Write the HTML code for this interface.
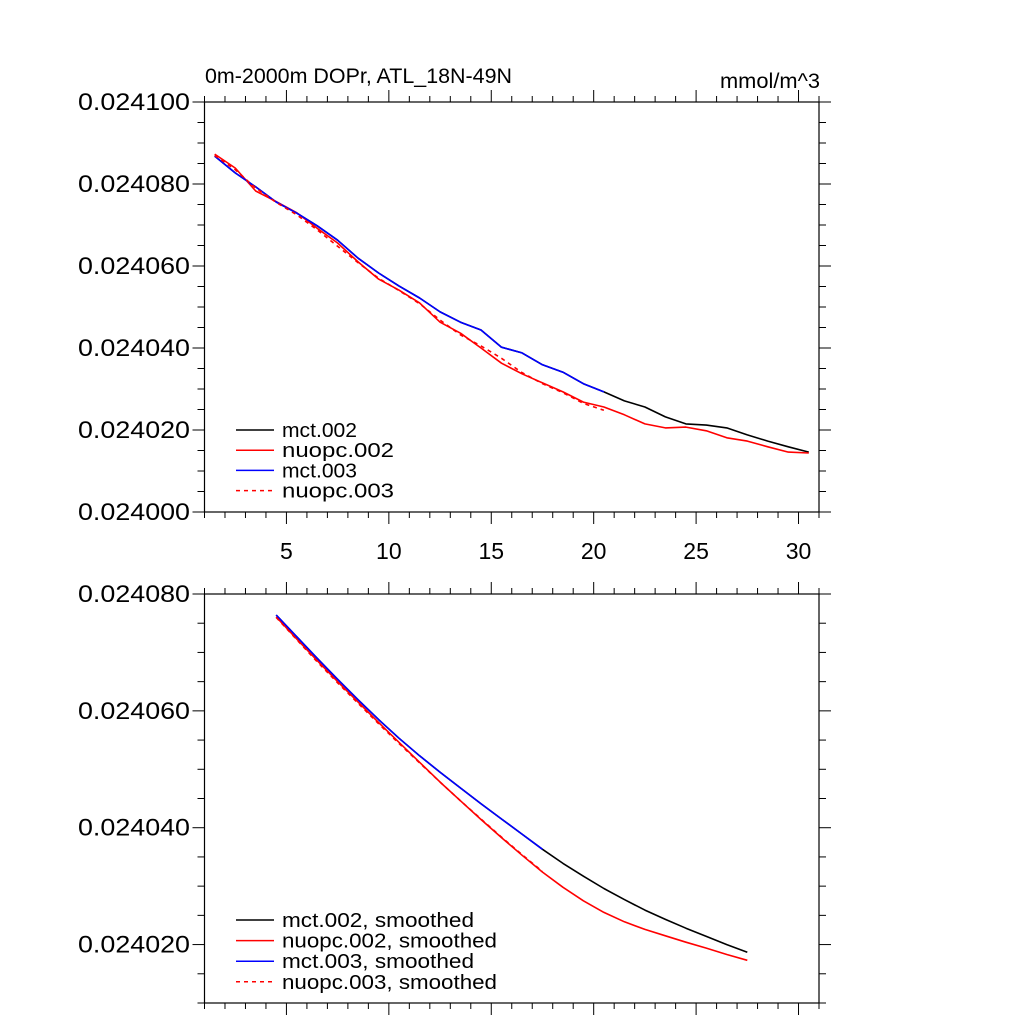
<!DOCTYPE html>
<html><head><meta charset="utf-8"><style>
body{margin:0;background:#fff;}
svg{display:block;font-family:"Liberation Sans",Arial,sans-serif;}
</style></head><body>
<svg id="chart" width="1024" height="1024" viewBox="0 0 1024 1024" xmlns="http://www.w3.org/2000/svg">
<text x="205" y="83" font-size="21" textLength="307" lengthAdjust="spacingAndGlyphs">0m-2000m DOPr, ATL_18N-49N</text>
<text x="820" y="88" font-size="21" text-anchor="end" textLength="100" lengthAdjust="spacingAndGlyphs">mmol/m^3</text>
</svg>
<script>
const topX = [1.5,2.5,3.5,4.5,5.5,6.5,7.5,8.5,9.5,10.5,11.5,12.5,13.5,14.5,15.5,16.5,17.5,18.5,19.5,20.5,21.5,22.5,23.5,24.5,25.5,26.5,27.5,28.5,29.5,30.5];
const mct002 = [86.8,82.7,79.3,75.6,72.9,69.8,66.3,61.9,58.3,55.1,52.2,48.8,46.3,44.4,40.2,38.8,35.9,34.1,31.3,29.3,27.1,25.6,23.2,21.5,21.2,20.5,18.8,17.3,15.9,14.6];
const nuopc002 = [87.3,83.9,78.3,75.7,73.0,69.2,65.6,61.0,56.8,54.1,51.0,46.3,43.6,40.0,36.3,33.7,31.5,29.3,26.8,25.6,23.7,21.5,20.5,20.7,19.8,18.1,17.3,15.9,14.6,14.4];
const mct003 = [86.8,82.7,79.3,75.6,72.9,69.8,66.3,61.9,58.3,55.1,52.2,48.8,46.3,44.4,40.2,38.8,35.9,34.1,31.3,29.3];
const nuopc003 = [87.0,83.5,79.0,75.5,72.5,68.8,64.8,60.8,57.0,54.0,50.8,46.8,43.2,40.5,37.5,34.0,31.3,29.1,26.5,24.8];
const botX = [4.5,5.5,6.5,7.5,8.5,9.5,10.5,11.5,12.5,13.5,14.5,15.5,16.5,17.5,18.5,19.5,20.5,21.5,22.5,23.5,24.5,25.5,26.5,27.5];
const mct002s = [76.4,72.7,69.0,65.4,61.9,58.5,55.3,52.3,49.5,46.8,44.1,41.5,38.9,36.3,33.9,31.7,29.6,27.7,25.9,24.3,22.8,21.4,20.0,18.7];
const nuopc002s = [76.1,72.3,68.6,65.0,61.5,58.0,54.6,51.2,47.8,44.6,41.4,38.3,35.3,32.4,29.8,27.5,25.5,23.9,22.6,21.5,20.4,19.4,18.3,17.3];
const mct003s = [76.4,72.7,69.0,65.4,61.9,58.5,55.3,52.3,49.5,46.8,44.1,41.5,38.9,36.3];
const nuopc003s = [76.0,72.2,68.4,64.8,61.3,57.8,54.4,51.1,47.8,44.6,41.5,38.4,35.4,32.5];
const xTickLabels = ["5","10","15","20","25","30"];
const topYTicks = ["0.024000","0.024020","0.024040","0.024060","0.024080","0.024100"];
const botYTicks = ["0.024020","0.024040","0.024060","0.024080"];
const topLegend = ["mct.002","nuopc.002","mct.003","nuopc.003"];
const botLegend = ["mct.002, smoothed","nuopc.002, smoothed","mct.003, smoothed","nuopc.003, smoothed"];

const svg = document.getElementById('chart');
const NS = 'http://www.w3.org/2000/svg';
function mk(tag, attrs, parent){const e=document.createElementNS(NS,tag);for(const k in attrs)e.setAttribute(k,attrs[k]);(parent||svg).appendChild(e);return e;}

function panel(name, top, bottom, ymin, ymax, showXLabels, yLabels){
  const L=204.5, R=819;
  const xs = v => L + (v-1)/(31-1)*(R-L);
  const ys = v => bottom - (v-ymin)/(ymax-ymin)*(bottom-top);
  const g = mk('g',{});
  
  
  const fr = mk('rect',{x:L,y:top,width:R-L,height:bottom-top,fill:'none',stroke:'#000','stroke-width':1.2},g);
  
  
  for(let v=1; v<=31; v++){
    const major = v%5===0;
    const len = major?12:6;
    const x = xs(v);
    const t1 = mk('line',{x1:x,x2:x,y1:bottom,y2:bottom+len,stroke:'#000','stroke-width':1},g);
    
    
    const t2 = mk('line',{x1:x,x2:x,y1:top,y2:top-len,stroke:'#000','stroke-width':1},g);
    
    
  }
  if(showXLabels){
    xTickLabels.forEach(s=>{
      const t = mk('text',{x:xs(+s),y:bottom+47,'font-size':23,'text-anchor':'middle'},g);
      
      
      t.textContent=s;
    });
  }
  for(let v=ymin; v<=ymax+0.001; v+=5){
    const major = Math.round(v)%20===0;
    const len = major?12:7;
    const y = ys(v);
    const t1 = mk('line',{x1:L,x2:L-len,y1:y,y2:y,stroke:'#000','stroke-width':1},g);
    
    
    const t2 = mk('line',{x1:R,x2:R+len,y1:y,y2:y,stroke:'#000','stroke-width':1},g);
    
    
  }
  yLabels.forEach(s=>{
    const v = Math.round((parseFloat(s)-0.024)*1e6);
    const t = mk('text',{x:190,y:ys(v)+8,'font-size':24,'text-anchor':'end',textLength:112,lengthAdjust:'spacingAndGlyphs'},g);
    
    
    t.textContent=s;
  });
  return {xs, ys, g};
}

function series(p, name, xArr, yArr, color, dash){
  const pts = yArr.map((v,i)=>p.xs(xArr[i]).toFixed(1)+','+p.ys(v).toFixed(1)).join(' ');
  const a = {points:pts,fill:'none',stroke:color,'stroke-width':1.6,'stroke-linejoin':'round'};
  if(dash) a['stroke-dasharray']='4,4';
  const pl = mk('polyline',a,p.g);
  
  
}

function legend(p, labels, widths, y0, dy){
  const cols=['#000','#f00','#00f','#f00'];
  labels.forEach((s,i)=>{
    const y=y0+i*dy;
    const a={x1:236,x2:274,y1:y,y2:y,stroke:cols[i],'stroke-width':1.5};
    if(i===3) a['stroke-dasharray']='4,4';
    const ln = mk('line',a,p.g);
    
    
    const t = mk('text',{x:282,y:y+7,'font-size':20,textLength:widths[i],lengthAdjust:'spacingAndGlyphs'},p.g);
    
    
    t.textContent=s;
  });
}

const p1 = panel('top-panel',102,512,0,100,true,topYTicks);
series(p1,'line-mct-002',topX,mct002,'#000');
series(p1,'line-nuopc-002',topX,nuopc002,'#f00');
series(p1,'line-mct-003',topX.slice(0,mct003.length),mct003,'#00f');
series(p1,'line-nuopc-003',topX.slice(0,nuopc003.length),nuopc003,'#f00',true);
legend(p1,topLegend,[75,112,75,112],430,20.2);

const p2 = panel('bottom-panel',594,1003,10,80,false,botYTicks);
series(p2,'line-mct-002-smoothed',botX,mct002s,'#000');
series(p2,'line-nuopc-002-smoothed',botX,nuopc002s,'#f00');
series(p2,'line-mct-003-smoothed',botX.slice(0,mct003s.length),mct003s,'#00f');
series(p2,'line-nuopc-003-smoothed',botX.slice(0,nuopc003s.length),nuopc003s,'#f00',true);
legend(p2,botLegend,[192,215,192,215],920,20.6);
</script>
</body></html>
